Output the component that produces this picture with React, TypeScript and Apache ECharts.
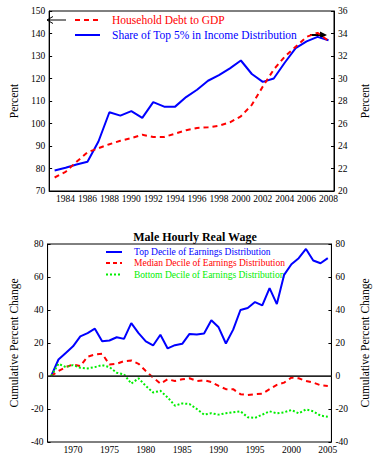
import React, { useEffect, useRef } from "react";
import * as echarts from "echarts";

const topYears = [1983,1984,1985,1986,1987,1988,1989,1990,1991,1992,1993,1994,1995,1996,1997,1998,1999,2000,2001,2002,2003,2004,2005,2006,2007,2008];
const householdDebt = [76,78.5,83,87.2,89,90.8,92.3,93.5,95,94,94,95.5,97,98,98.3,99,100.5,103.2,108.3,116.4,124,129.7,134.1,138.5,140.3,136.7];
const top5Share = [21.83,22.06,22.36,22.6,24.4,27.0,26.7,27.1,26.5,27.9,27.5,27.5,28.35,29.0,29.8,30.3,30.9,31.6,30.4,29.7,30.0,31.4,32.7,33.3,33.7,33.4];

const wageYears = [1967,1968,1969,1970,1971,1972,1973,1974,1975,1976,1977,1978,1979,1980,1981,1982,1983,1984,1985,1986,1987,1988,1989,1990,1991,1992,1993,1994,1995,1996,1997,1998,1999,2000,2001,2002,2003,2004,2005];
const topDecile = [0,10,14,18,24,26,28.7,21,21.5,23.5,22.5,32,26,21,18.5,25,16.7,18.7,19.5,25.5,25.1,25.7,33.8,29.5,19.7,28.1,40,41.2,44.8,42.8,53.3,43.6,61.3,67.7,71.4,77,70,68.3,71.4];
const medianDecile = [0,3,5.4,7,6,11.7,13,13.5,7,7.4,9,9.4,7.4,3,-1,-4.6,-2,-3,-2,-1.4,-3,-2.6,-3.6,-6,-8,-8,-11,-11.5,-11,-10.7,-8,-5.4,-4,-1,-1.4,-3,-4,-5.6,-6];
const bottomDecile = [0,7.4,5.4,6.6,5,4.6,5.4,6.6,5.4,2,1,-4.6,-1.4,-6,-10,-9,-13,-18,-16.6,-17,-20,-23.4,-22.6,-23.4,-22.6,-22,-21.4,-25,-25.4,-23.4,-21.4,-22.6,-22,-20.6,-22.6,-20.3,-21.4,-24,-24.7];

const FONT = "Liberation Serif";
const BLUE = "#0000ff";
const RED = "#ff0000";
const GREEN = "#00ee00";

export default function App() {
  const ref = useRef<HTMLDivElement>(null);
  useEffect(() => {
    document.body.style.margin = "0";
    const chart = echarts.init(ref.current!, null, { renderer: "svg" });
    const tickLabel = { fontFamily: FONT, fontSize: 9.5, color: "#000" };
    const axisName = { fontFamily: FONT, fontSize: 11.5, color: "#000" };
    const xCommon = (data: number[], grid: number, every: number) => ({
      type: "category",
      gridIndex: grid,
      data: data.map(String),
      boundaryGap: true,
      axisLine: { lineStyle: { color: "#000", width: 1 } },
      axisTick: { inside: true, length: 3, interval: 0, alignWithLabel: true, lineStyle: { color: "#000" } },
      axisLabel: { ...tickLabel, margin: 3, interval: (_i: number, v: string) => Number(v) % every === 0 },
      splitLine: { show: false },
    });
    const yCommon = (grid: number, min: number, max: number, interval: number, pos: string, name: string, gap: number) => ({
      type: "value",
      gridIndex: grid,
      position: pos,
      min, max, interval,
      name,
      nameLocation: "middle",
      nameGap: gap,
      nameTextStyle: axisName,
      axisLine: { show: true, lineStyle: { color: "#000", width: 1 } },
      axisTick: { show: true, inside: true, length: 3, lineStyle: { color: "#000" } },
      axisLabel: { ...tickLabel, margin: 4 },
      splitLine: { show: false },
    });
    chart.setOption({
      animation: false,
      backgroundColor: "#fff",
      textStyle: { fontFamily: FONT },
      title: {
        text: "Male Hourly Real Wage",
        left: 190,
        textAlign: "center",
        top: 226,
        textStyle: { fontFamily: FONT, fontSize: 12, fontWeight: "bold", color: "#000" },
      },
      grid: [
        { left: 38, right: 43, top: 11, height: 180, show: true, borderColor: "#000", borderWidth: 1 },
        { left: 42, right: 41, top: 244, height: 198, show: true, borderColor: "#000", borderWidth: 1 },
      ],
      xAxis: [xCommon(topYears, 0, 2), xCommon(wageYears, 1, 5)],
      yAxis: [
        yCommon(0, 70, 150, 10, "left", "Percent", 21),
        yCommon(0, 20, 36, 2, "right", "Percent", 25),
        yCommon(1, -40, 80, 20, "left", "Cumulative Percent Change", 24),
        yCommon(1, -40, 80, 20, "right", "Cumulative Percent Change", 25),
      ],
      series: [
        {
          name: "Household Debt to GDP", type: "line", xAxisIndex: 0, yAxisIndex: 0,
          data: householdDebt, symbol: "none",
          lineStyle: { color: RED, width: 2, type: [5, 4] }, z: 3,
        },
        {
          name: "Share of Top 5% in Income Distribution", type: "line", xAxisIndex: 0, yAxisIndex: 1,
          data: top5Share, symbol: "none",
          lineStyle: { color: BLUE, width: 2 }, z: 2,
        },
        {
          name: "Top Decile of Earnings Distribution", type: "line", xAxisIndex: 1, yAxisIndex: 2,
          data: topDecile, symbol: "none",
          lineStyle: { color: BLUE, width: 2 },
          markLine: {
            silent: true, symbol: ["none", "none"], label: { show: false },
            lineStyle: { color: "#333", width: 1.5, type: "solid" },
            data: [{ yAxis: 0 }],
          },
        },
        {
          name: "Median Decile of Earnings Distribution", type: "line", xAxisIndex: 1, yAxisIndex: 2,
          data: medianDecile, symbol: "none",
          lineStyle: { color: RED, width: 2, type: [5, 4] },
        },
        {
          name: "Bottom Decile of Earnings Distribution", type: "line", xAxisIndex: 1, yAxisIndex: 2,
          data: bottomDecile, symbol: "none",
          lineStyle: { color: GREEN, width: 2, type: [2, 2] },
        },
      ],
      graphic: [
        { type: "line", shape: { x1: 47, y1: 20, x2: 66, y2: 20 }, style: { stroke: "#000", lineWidth: 1 } },
        { type: "polyline", shape: { points: [[53, 16.5], [47, 20], [53, 23.5]] }, style: { stroke: "#000", lineWidth: 1, fill: null } },
        { type: "line", shape: { x1: 310, y1: 35, x2: 322, y2: 35 }, style: { stroke: "#000", lineWidth: 2 } },
        { type: "polygon", shape: { points: [[320, 31.5], [327, 35], [320, 38.5]] }, style: { fill: "#000" } },
        { type: "line", shape: { x1: 75, y1: 20, x2: 100, y2: 20 }, style: { stroke: RED, lineWidth: 2, lineDash: [5, 4] } },
        { type: "text", x: 112, y: 20, style: { text: "Household Debt to GDP", fill: RED, font: `11.5px "${FONT}"`, verticalAlign: "middle" } },
        { type: "line", shape: { x1: 75, y1: 35, x2: 100, y2: 35 }, style: { stroke: BLUE, lineWidth: 2 } },
        { type: "text", x: 112, y: 35, style: { text: "Share of Top 5% in Income Distribution", fill: BLUE, font: `11.5px "${FONT}"`, verticalAlign: "middle" } },
        { type: "line", shape: { x1: 106, y1: 252, x2: 122, y2: 252 }, style: { stroke: BLUE, lineWidth: 2 } },
        { type: "text", x: 134, y: 252, style: { text: "Top Decile of Earnings Distribution", fill: BLUE, font: `9.5px "${FONT}"`, verticalAlign: "middle" } },
        { type: "line", shape: { x1: 106, y1: 263, x2: 122, y2: 263 }, style: { stroke: RED, lineWidth: 2, lineDash: [4, 3] } },
        { type: "text", x: 134, y: 263, style: { text: "Median Decile of Earnings Distribution", fill: RED, font: `9.5px "${FONT}"`, verticalAlign: "middle" } },
        { type: "line", shape: { x1: 106, y1: 274.5, x2: 122, y2: 274.5 }, style: { stroke: GREEN, lineWidth: 2, lineDash: [2, 2] } },
        { type: "text", x: 134, y: 274.5, style: { text: "Bottom Decile of Earnings Distribution", fill: GREEN, font: `9.5px "${FONT}"`, verticalAlign: "middle" } },
      ],
    });
    return () => chart.dispose();
  }, []);
  return <div ref={ref} style={{ width: 379, height: 461 }} />;
}
